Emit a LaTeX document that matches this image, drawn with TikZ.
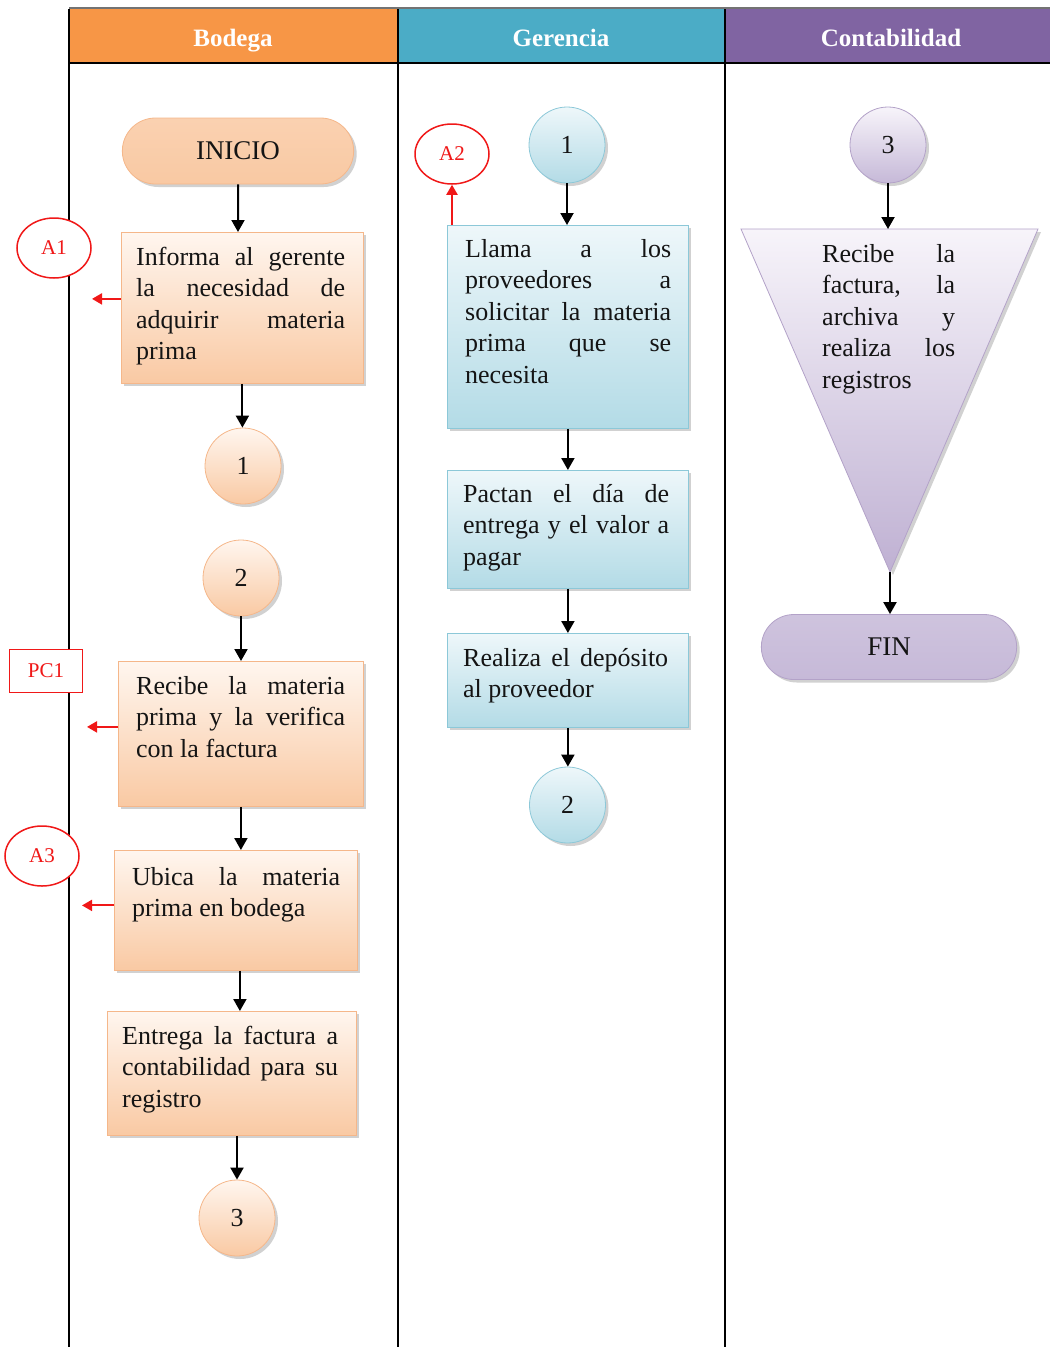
\documentclass[tikz,border=0pt]{standalone}
\usepackage{fontspec}
\setmainfont{Liberation Serif}
\usetikzlibrary{arrows.meta,shapes.misc,shapes.geometric,shadows}

\definecolor{hdrOrange}{HTML}{F79646}
\definecolor{hdrBlue}{HTML}{4BACC6}
\definecolor{hdrPurple}{HTML}{8064A2}
\definecolor{orTop}{HTML}{FFF6EF}
\definecolor{orBot}{HTML}{F9C9A3}
\definecolor{orLine}{HTML}{F5B78A}
\definecolor{blTop}{HTML}{EEF7FA}
\definecolor{blBot}{HTML}{B3DBE6}
\definecolor{blLine}{HTML}{8CC8D8}
\definecolor{puTop}{HTML}{F7F4FA}
\definecolor{puBot}{HTML}{C6B9D8}
\definecolor{puLine}{HTML}{B3A2C8}
\definecolor{ink}{HTML}{141414}
\definecolor{audit}{HTML}{F01818}

\hbadness=10000

\begin{document}
\begin{tikzpicture}[x=1pt,y=-1pt,
  every node/.style={font=\fontsize{26}{31.5}\selectfont, text=ink},
  header/.style={font=\fontsize{25}{30}\selectfont\bfseries, text=white, anchor=base},
  shade/.style={drop shadow={shadow xshift=3pt,shadow yshift=-3pt,fill=black,opacity=0.18}},
  obox/.style={rectangle, draw=orLine, line width=0.8pt, top color=orTop, bottom color=orBot, shade, anchor=north west, inner sep=0pt},
  bbox/.style={rectangle, draw=blLine, line width=0.8pt, top color=blTop, bottom color=blBot, shade, anchor=north west, inner sep=0pt},
  txt/.style={anchor=base west, inner sep=0pt, align=justify},
  oconn/.style={circle, draw=orLine, line width=0.8pt, top color=orTop, bottom color=orBot, shade, minimum size=76pt, inner sep=0pt},
  bconn/.style={circle, draw=blLine, line width=0.8pt, top color=blTop, bottom color=blBot, shade, minimum size=76pt, inner sep=0pt},
  pconn/.style={circle, draw=puLine, line width=0.8pt, top color=puTop, bottom color=puBot, shade, minimum size=76pt, inner sep=0pt},
  oterm/.style={rounded rectangle, draw=orLine, line width=0.8pt, top color=orBot!85, middle color=orTop, bottom color=orBot, shade, minimum width=238pt, minimum height=66pt, font=\fontsize{27}{30}\selectfont},
  pterm/.style={rounded rectangle, draw=puLine, line width=0.8pt, top color=puBot!85, middle color=puTop, bottom color=puBot, shade, minimum width=262pt, minimum height=65pt, font=\fontsize{27}{30}\selectfont},
  auditel/.style={ellipse, draw=audit, line width=1.5pt, fill=white, minimum width=74pt, minimum height=60pt, inner sep=0pt, text=audit, font=\fontsize{21}{24}\selectfont},
  auditbox/.style={rectangle, draw=audit, line width=1.5pt, fill=white, minimum width=73pt, minimum height=43pt, inner sep=0pt, text=audit, font=\fontsize{21}{24}\selectfont},
  flow/.style={draw=black, line width=2pt, -{Triangle[length=12pt,width=13pt]}},
  redflow/.style={draw=audit, line width=2pt, -{Triangle[length=10pt,width=11pt]}}
]
\useasboundingbox (0,0) rectangle (1050,1347);

% ---------- swimlane headers ----------
\fill[hdrOrange] (69,9) rectangle (398,63);
\fill[hdrBlue] (398,9) rectangle (725,63);
\fill[hdrPurple] (725,9) rectangle (1050,63);
\node[header] (hBodega) at (233,46) {Bodega};
\node[header] (hGerencia) at (561,46) {Gerencia};
\node[header] (hConta) at (891,46) {Contabilidad};
\draw[black!55, line width=1.2pt] (69,8) -- (1050,8);
\draw[black, line width=1.8pt] (69,63) -- (1050,63);
\foreach \lx in {69,398,725} \draw[black, line width=1.8pt] (\lx,9) -- (\lx,1347);

% ---------- Bodega ----------
\node[oterm] (inicio) at (238,151) {INICIO};

\node[obox, minimum width=242pt, minimum height=151pt] (b1) at (121,232) {};
\node[txt, text width=209pt] (t1) at (136,265)
  {Informa al gerente\linebreak la necesidad de\linebreak adquirir materia\linebreak prima};

\node[oconn] (c1a) at (243,466) {1};
\node[oconn] (c2a) at (241,578) {2};

\node[obox, minimum width=245pt, minimum height=145pt] (b2) at (118,661) {};
\node[txt, text width=209pt] (t2) at (136,694)
  {Recibe la materia\linebreak prima y la verifica\linebreak con la factura};

\node[obox, minimum width=243pt, minimum height=120pt] (b3) at (114,850) {};
\node[txt, text width=208pt] (t3) at (132,885)
  {Ubica la materia\linebreak prima en bodega};

\node[obox, minimum width=249pt, minimum height=124pt] (b4) at (107,1011) {};
\node[txt, text width=216pt] (t4) at (122,1044)
  {Entrega la factura a\linebreak contabilidad para su\linebreak registro};

\node[oconn] (c3a) at (237,1218) {3};

\node[auditel] (a1) at (54,248) {A1};
\node[auditbox] (pc1) at (46,671) {PC1};
\node[auditel] (a3) at (42,856) {A3};

\draw[flow] (inicio) -- (inicio |- b1.north);
\draw[flow] (b1.south) -- (b1.south |- c1a.north);
\draw[flow] (c2a) -- (c2a |- b2.north);
\draw[flow] (b2.south) -- (b2.south |- b3.north);
\draw[flow] ([xshift=4pt]b3.south) -- ([xshift=4pt]b3.south |- b4.north);
\draw[flow] (c3a |- b4.south) -- (c3a.north);

\draw[redflow] ([yshift=9pt]b1.west) -- ++(-29,0);
\draw[redflow] ([yshift=7pt]b2.west) -- ++(-31,0);
\draw[redflow] ([yshift=5pt]b3.west) -- ++(-32,0);

% ---------- Gerencia ----------
\node[bconn] (c1b) at (567,145) {1};
\node[auditel] (a2) at (452,154) {A2};

\node[bbox, minimum width=241pt, minimum height=203pt] (b5) at (447,225) {};
\node[txt, text width=206pt] (t5) at (465,257)
  {Llama a los\linebreak proveedores a\linebreak solicitar la materia\linebreak prima que se\linebreak necesita};

\node[bbox, minimum width=241pt, minimum height=118pt] (b6) at (447,470) {};
\node[txt, text width=206pt] (t6) at (463,502)
  {Pactan el día de\linebreak entrega y el valor a\linebreak pagar};

\node[bbox, minimum width=241pt, minimum height=94pt] (b7) at (447,633) {};
\node[txt, text width=205pt] (t7) at (463,666)
  {Realiza el depósito\linebreak al proveedor};

\node[bconn] (c2b) at (567.5,805) {2};

\draw[flow] (c1b) -- (c1b |- b5.north);
\draw[flow] (b5.south) -- (b6.north);
\draw[flow] (b6.south) -- (b7.north);
\draw[flow] (b7.south) -- (b7.south |- c2b.north);
\draw[redflow] (a2 |- b5.north) -- (a2.south);

% ---------- Contabilidad ----------
\node[pconn] (c3b) at (888,145) {3};

\coordinate (triL) at (741,229);
\coordinate (triR) at (1038,229);
\coordinate (triTop) at (889,229);
\coordinate (triTip) at (890,572);
\shade[top color=puTop, bottom color=puBot!90!hdrPurple, draw=puLine, line width=0.8pt]
  (triL) -- (triR) -- (triTip) -- cycle;
\node[txt, text width=133pt] (t8) at (822,262)
  {Recibe la\linebreak factura, la\linebreak archiva y\linebreak realiza los\linebreak registros};

\node[pterm] (fin) at (889,647) {FIN};

\draw[flow] (c3b) -- (c3b |- triTop);
\draw[flow] (triTip) -- (triTip |- fin.north);
\end{tikzpicture}
\end{document}
